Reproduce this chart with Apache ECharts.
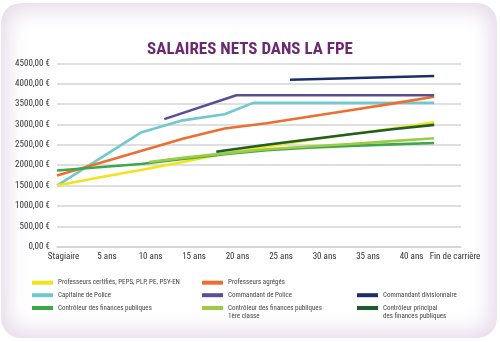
<!DOCTYPE html>
<html>
<head>
<meta charset="utf-8">
<script src="https://cdn.jsdelivr.net/npm/echarts@6/dist/echarts.min.js"></script>
<style>
html,body{margin:0;padding:0;background:#fff;}
#panel{position:absolute;left:1px;top:3px;width:496px;height:335px;border-radius:20px;background:#fff;box-shadow:inset 0 0 22px 6px #e4d9e8;}
#chart{position:absolute;left:0;top:0;width:500px;height:342px;}
</style>
</head>
<body>
<div id="panel"></div>
<div id="chart"></div>
<script>
// Categories / tick labels
const xLabels = ['Stagiaire','5 ans','10 ans','15 ans','20 ans','25 ans','30 ans','35 ans','40 ans','Fin de carrière'];
const years = [0,5,10,15,20,25,30,35,40,45];

// Series values (net salary, €)
const certifies = [1500,1700,1880,2080,2290,2460,2610,2760,2900,3050];
const agreges = [1750,2050,2350,2650,2900,3030,3190,3350,3510,3680];
const capitaineYears = [0,10,15,20,23.4,45];
const capitaine = [1500,2800,3100,3250,3530,3530];
const commandantYears = [12.8,21.4,45];
const commandant = [3130,3715,3715];
const divisionnaireYears = [27.8,45];
const divisionnaire = [4095,4190];
const controleur = [1870,1950,2030,2150,2270,2370,2430,2475,2510,2545];
const controleur1Years = [11,15,20,25,30,35,40,45];
const controleur1 = [2080,2180,2290,2390,2460,2520,2590,2660];
const principalYears = [19,20,25,30,35,40,45];
const principal = [2330,2360,2500,2630,2760,2880,2990];

const names = {
  certifies:'Professeurs certifiés, PEPS, PLP, PE, PSY-EN',
  agreges:'Professeurs agrégés',
  capitaine:'Capitaine de Police',
  commandant:'Commandant de Police',
  divisionnaire:'Commandant divisionnaire',
  controleur:'Contrôleur des finances publiques',
  controleur1:'Contrôleur des finances publiques\n1ère classe',
  principal:'Contrôleur principal\ndes finances publiques'
};

function pairs(xs, ys){ return xs.map((x,i)=>[x, ys[i]]); }

const font = "'Liberation Sans Narrow','Arial Narrow','Roboto Condensed','Liberation Sans',sans-serif";
function line(name, data, color, z){
  return {type:'line', name:name, data:data, xAxisIndex:0, yAxisIndex:0, showSymbol:false, symbol:'none',
    lineStyle:{color:color, width:2.6}, itemStyle:{color:color}, z:z||2, animation:false};
}

const legendFont = {fontFamily:font, fontSize:7, color:'#444'};
function leg(name, left, cy){
  return {orient:'horizontal', icon:'rect', itemWidth:21, itemHeight:4, padding:0,
    left:left, top:cy-4.5, selectedMode:false, data:[name],
    formatter:n=>n.split('\n')[0],
    textStyle:Object.assign({lineHeight:9}, legendFont)};
}
const col = [32, 202, 357];
const row = [282.7, 295.2, 308];

const chart = echarts.init(document.getElementById('chart'), null, {renderer:'canvas'});
chart.setOption({
  backgroundColor:'transparent',
  animation:false,
  title:{text:'SALAIRES NETS DANS LA FPE', left:'center', top:36,
    textStyle:{fontFamily:font, fontWeight:'bold', fontSize:17, color:'#6b2a70'}},
  grid:[
    {left:57, right:39, top:63.3, bottom:95.3},
    {left:63.5, right:45, top:63.3, bottom:95.3}
  ],
  xAxis:[
    {type:'value', gridIndex:0, min:0, max:48.2, axisLabel:{show:false}, axisTick:{show:false},
      splitLine:{show:false}, axisLine:{show:true, lineStyle:{color:'#d4d4d4', width:1.5}}},
    {type:'category', gridIndex:1, data:xLabels, boundaryGap:false, axisLine:{show:false}, axisTick:{show:false},
      axisLabel:{fontFamily:font, fontSize:9, color:'#333', margin:6, interval:0}}
  ],
  yAxis:[
    {type:'value', gridIndex:0, min:0, max:4500, interval:500,
      axisLabel:{fontFamily:font, fontSize:9, color:'#333', margin:7,
        formatter:v=>v.toFixed(2).replace('.', ',')+' €'},
      axisLine:{show:false}, axisTick:{show:false},
      splitLine:{show:true, lineStyle:{color:'#d4d4d4', width:1.5}}},
    {type:'value', gridIndex:1, min:0, max:4500, show:false}
  ],
  legend:[
    leg(names.certifies, col[0], row[0]),
    leg(names.agreges, col[1], row[0]),
    leg(names.capitaine, col[0], row[1]),
    leg(names.commandant, col[1], row[1]),
    leg(names.divisionnaire, col[2], row[1]),
    leg(names.controleur, col[0], row[2]),
    leg(names.controleur1, col[1], row[2]),
    leg(names.principal, col[2], row[2])
  ],
  graphic:[
    {type:'text', left:col[1]+26, top:row[2]+4.5, silent:true,
      style:Object.assign({text:names.controleur1.split('\n')[1]}, {font:'7px ' + font, fill:'#444'})},
    {type:'text', left:col[2]+26, top:row[2]+4.5, silent:true,
      style:Object.assign({text:names.principal.split('\n')[1]}, {font:'7px ' + font, fill:'#444'})}
  ],
  series:[
    line(names.capitaine, pairs(capitaineYears, capitaine), '#72c8cf'),
    line(names.agreges, pairs(years, agreges), '#ee6d2f'),
    line(names.commandant, pairs(commandantYears, commandant), '#5a4e98'),
    line(names.divisionnaire, pairs(divisionnaireYears, divisionnaire), '#1b2e6c'),
    line(names.certifies, pairs(years, certifies), '#f2e41a'),
    line(names.controleur, pairs(years, controleur), '#3ba94a'),
    line(names.controleur1, pairs(controleur1Years, controleur1), '#9dcb45'),
    line(names.principal, pairs(principalYears, principal), '#1f5d2d', 3)
  ]
});
</script>
</body>
</html>
